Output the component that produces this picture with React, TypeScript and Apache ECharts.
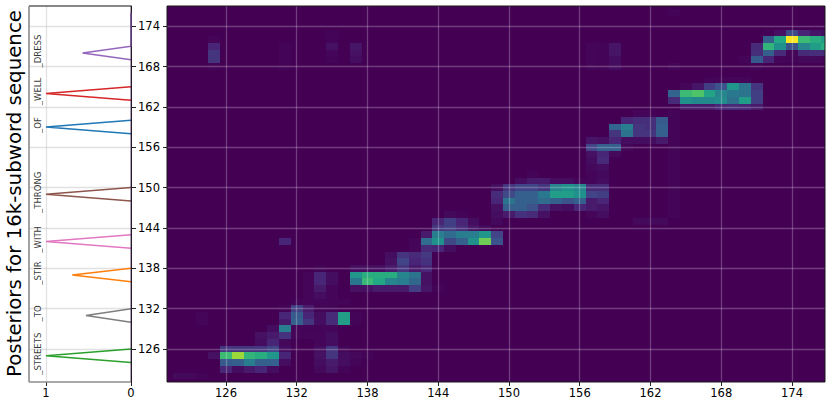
import React, { useEffect, useRef } from "react";
import * as echarts from "echarts";

// ---- data ----
const tickValues = [126, 132, 138, 144, 150, 156, 162, 168, 174];
const limitTicks = [0, 1];

const wordNames = ["_STREETS", "_TO", "_STIR", "_WITH", "_THRONG", "_OF", "_WELL", "_DRESS"];
const wordFrames = [125, 131, 137, 142, 149, 159, 164, 170];
const wordPeaks = [1, 0.53, 0.69, 1, 1, 1, 1, 0.57];
const wordColours = ["#2ca02c", "#7f7f7f", "#ff7f0e", "#e377c2", "#8c564b", "#1f77b4", "#d62728", "#9467bd"];

type Row = [number, number, number[]]; // frame on y, first frame on x, posteriors

const streetsCells: Row[] = [
  [122, 122, [0.04, 0.04, 0.02]],
  [123, 126, [0.1, 0.05, 0.08, 0.1, 0.05]],
  [124, 126, [0.28, 0.3, 0.42, 0.3, 0.3, 0.05]],
  [125, 125, [0.06, 0.68, 0.85, 0.65, 0.62, 0.52, 0.1]],
  [126, 126, [0.15, 0.15, 0.15, 0.15, 0.2, 0.05]],
  [127, 129, [0.05, 0.1, 0.04]],
  [128, 129, [0.06, 0.08, 0.14, 0.03, 0.03, 0.03, 0.05]],
  [129, 130, [0.05, 0.42, 0.03, 0.02, 0.02, 0.03]],
  [130, 124, [0.03]],
  [131, 124, [0.03]],
];
const toCells: Row[] = [
  [130, 131, [0.08, 0.3, 0.15, 0.05, 0.12, 0.55, 0.02]],
  [131, 131, [0.1, 0.28, 0.1, 0.05, 0.12, 0.55, 0.02]],
  [132, 131, [0.02, 0.18, 0.08, 0.02, 0.02]],
  [127, 134, [0.03, 0.05]],
  [126, 134, [0.05, 0.15, 0.03]],
  [125, 134, [0.06, 0.15, 0.05, 0.04, 0.02]],
  [124, 134, [0.05, 0.08, 0.05, 0.02]],
  [123, 134, [0.04, 0.07, 0.02]],
  [133, 132, [0.02, 0.03, 0.03, 0.02, 0.02]],
  [134, 133, [0.03, 0.05, 0.03]],
  [135, 133, [0.03, 0.08, 0.03]],
  [136, 133, [0.03, 0.1, 0.05]],
  [137, 133, [0.03, 0.1, 0.05]],
  [138, 134, [0.02]],
  [142, 131, [0.1]],
];
const stirCells: Row[] = [
  [135, 137, [0.06, 0.06, 0.08, 0.08, 0.08, 0.18, 0.07, 0.02]],
  [136, 137, [0.4, 0.67, 0.6, 0.45, 0.42, 0.33, 0.06]],
  [137, 137, [0.52, 0.62, 0.62, 0.62, 0.45, 0.38, 0.06]],
  [138, 137, [0.05, 0.05, 0.05, 0.08, 0.15, 0.08, 0.1]],
  [139, 140, [0.06, 0.2, 0.1, 0.14]],
  [140, 140, [0.05, 0.15, 0.12, 0.16]],
  [141, 142, [0.03, 0.12, 0.1, 0.05]],
];
const withCells: Row[] = [
  [142, 142, [0.03, 0.35, 0.5, 0.22, 0.3, 0.5, 0.78, 0.25]],
  [143, 143, [0.08, 0.42, 0.35, 0.42, 0.42, 0.52, 0.2]],
  [144, 144, [0.15, 0.18, 0.12, 0.07, 0.04]],
  [145, 144, [0.1, 0.18, 0.1, 0.05]],
  [146, 145, [0.04, 0.02]],
];
const throngCells: Row[] = [
  [145, 149, [0.04]],
  [146, 149, [0.05, 0.08, 0.14, 0.12, 0.06, 0, 0, 0, 0.03, 0.05]],
  [147, 149, [0.06, 0.3, 0.3, 0.25, 0.12, 0.06, 0.05, 0.1, 0.08, 0.07]],
  [148, 149, [0.1, 0.38, 0.3, 0.3, 0.35, 0.3, 0.25, 0.3, 0.08, 0.1]],
  [149, 149, [0.12, 0.22, 0.3, 0.3, 0.4, 0.55, 0.55, 0.5, 0.2, 0.18]],
  [150, 149, [0.05, 0.15, 0.2, 0.2, 0.15, 0.45, 0.5, 0.45, 0.12, 0.12]],
  [151, 151, [0.05, 0.08, 0.08, 0.05, 0.05, 0.03, 0.03, 0.05]],
  [152, 152, [0.02]],
  [145, 161, [0.04, 0.04, 0.04]],
];
const ofCells: Row[] = [
  [152, 157, [0.03, 0.04]],
  [153, 157, [0.04, 0.05]],
  [154, 157, [0.05, 0.12]],
  [155, 157, [0.06, 0.1, 0.04]],
  [156, 157, [0.2, 0.3, 0.3, 0.03]],
  [157, 157, [0.07, 0.06, 0.1, 0.05, 0.05, 0.05, 0.08]],
  [158, 159, [0.15, 0.38, 0.15, 0.15, 0.3, 0.02]],
  [159, 159, [0.32, 0.42, 0.15, 0.13, 0.3, 0.02]],
  [160, 160, [0.1, 0.13, 0.13, 0.28, 0.02]],
  [161, 161, [0.03, 0.02, 0, 0.02]],
];
const strayStrip: Row[] = [
  [146, 164, [0.025]],
  [147, 164, [0.025]],
  [148, 164, [0.025]],
  [149, 164, [0.025]],
  [150, 164, [0.025]],
  [151, 164, [0.025]],
  [152, 164, [0.025]],
  [153, 164, [0.025]],
  [154, 164, [0.025]],
  [155, 164, [0.025]],
  [156, 164, [0.025]],
  [157, 164, [0.025]],
  [168, 164, [0.03]],
  [176, 164, [0.02]],
];
const wellCells: Row[] = [
  [162, 165, [0.08, 0.08, 0.08, 0.1, 0.12, 0.1, 0.08]],
  [163, 164, [0.12, 0.5, 0.47, 0.47, 0.48, 0.37, 0.55, 0.18]],
  [164, 164, [0.32, 0.68, 0.72, 0.58, 0.45, 0.4, 0.38, 0.18]],
  [165, 165, [0.03, 0.07, 0.18, 0.25, 0.52, 0.38, 0.15]],
  [166, 167, [0.02, 0.03, 0.03, 0.03]],
];
const dressCells: Row[] = [
  [168, 171, [0.02]],
  [169, 170, [0.02, 0.28, 0.1, 0.03, 0.02, 0.04, 0.04, 0.03]],
  [170, 171, [0.13, 0.3, 0.12, 0.03, 0.12, 0.13, 0.12]],
  [171, 171, [0.12, 0.65, 0.5, 0.25, 0.45, 0.55, 0.62]],
  [172, 172, [0.3, 0.6, 1, 0.68, 0.62, 0.55]],
  [173, 172, [0.02, 0.06, 0.22, 0.1, 0.07, 0.05]],
];
const farCells: Row[] = [
  [168, 125, [0.02]],
  [169, 125, [0.15]],
  [170, 125, [0.15]],
  [171, 125, [0.1]],
  [172, 125, [0.03]],
  [168, 131, [0.02]],
  [169, 131, [0.02]],
  [170, 131, [0.02]],
  [171, 131, [0.02, 0, 0, 0, 0.06, 0, 0.07]],
  [172, 135, [0.02]],
  [173, 135, [0.02]],
  [170, 135, [0.03, 0, 0.06]],
  [169, 135, [0.02, 0, 0.05]],
  [168, 157, [0.03, 0.02, 0.05]],
  [169, 157, [0.03, 0.02, 0.05]],
  [170, 157, [0.03, 0.02, 0.07]],
  [171, 157, [0.03, 0.02, 0.07]],
];

// ---- styling ----
const viridis = ["#440154", "#482576", "#414487", "#355f8d", "#2a788e", "#21918c", "#22a884", "#44bf70", "#7ad151", "#bddf26", "#fde725"];
const hex = (s: string) => [1, 3, 5].map((i) => parseInt(s.slice(i, i + 2), 16));
function colourOf(raw: number) {
  // faint estimates sit closer to the background than a linear ramp shows them
  const v = raw < 0.1 ? 0.1 * Math.pow(raw / 0.1, 1.6) : raw;
  const t = Math.min(0.9999, v) * 10;
  const i = Math.floor(t);
  const a = hex(viridis[i]);
  const b = hex(viridis[i + 1]);
  const m = a.map((c, k) => Math.round(c + (b[k] - c) * (t - i)));
  return `rgb(${m[0]},${m[1]},${m[2]})`;
}

const font = "DejaVu Sans";
const yMin = 121.1;
const yMax = 177;
const xMin = 121;
const xMax = 176.8;

const allRows = [
  ...streetsCells, ...toCells, ...stirCells, ...withCells, ...throngCells,
  ...ofCells, ...strayStrip, ...wellCells, ...dressCells, ...farCells,
];
const cells: number[][] = [];
allRows.forEach(([y, x0, vals]) => {
  vals.forEach((v, i) => {
    if (v > 0) cells.push([x0 + i, y, v]);
  });
});

function buildOption(): any {
  const lineSeries = wordNames.map((name, i) => {
    const f = wordFrames[i];
    const pts = [[0, f - 1], [wordPeaks[i], f], [0, f + 1]];
    if (i === wordNames.length - 1) pts.push([0, 176]);
    return {
      type: "line",
      name,
      xAxisIndex: 0,
      yAxisIndex: 0,
      data: pts,
      showSymbol: false,
      symbol: "none",
      z: 4,
      lineStyle: { color: wordColours[i], width: 1.5 },
    };
  });
  return {
    animation: false,
    grid: [
      { left: 29, top: 6, width: 102, bottom: 25, show: false },
      { left: 167, top: 6, right: 6, bottom: 25, show: true, backgroundColor: "#440154", borderWidth: 0 },
    ],
    xAxis: [
      {
        type: "value", gridIndex: 0, inverse: true, min: 0, max: 1.2,
        axisLine: { show: false },
        axisTick: { length: 4, lineStyle: { color: "#222" }, customValues: limitTicks },
        axisLabel: { customValues: limitTicks, color: "#000", fontFamily: font, fontSize: 11.5, margin: 5 },
        splitLine: { show: true, lineStyle: { color: "rgba(190,190,190,0.45)", width: 1.3 } },
      },
      {
        type: "value", gridIndex: 1, min: xMin, max: xMax, z: 5,
        axisLine: { show: false },
        axisTick: { length: 4, lineStyle: { color: "#222" }, customValues: tickValues },
        axisLabel: { customValues: tickValues, color: "#000", fontFamily: font, fontSize: 11.5, margin: 5 },
        splitLine: { show: true, lineStyle: { color: "rgba(255,255,255,0.24)", width: 1.3 } },
      },
    ],
    yAxis: [
      {
        type: "value", gridIndex: 0, position: "right", min: yMin, max: yMax,
        axisLine: { show: true, onZero: false, lineStyle: { color: "#2a1a2e", width: 1 } },
        axisTick: { length: 5, lineStyle: { color: "#222" }, customValues: tickValues },
        axisLabel: { customValues: tickValues, color: "#000", fontFamily: font, fontSize: 11.5, margin: 7 },
        splitLine: { show: true, lineStyle: { color: "rgba(190,190,190,0.45)", width: 1.3 } },
      },
      {
        type: "value", gridIndex: 1, min: yMin, max: yMax, z: 5,
        axisLine: { show: false },
        axisTick: { length: 4, lineStyle: { color: "#222" }, customValues: tickValues },
        axisLabel: { show: false, customValues: tickValues },
        splitLine: { show: true, lineStyle: { color: "rgba(255,255,255,0.24)", width: 1.3 } },
      },
    ],
    series: [
      ...lineSeries,
      {
        type: "scatter",
        xAxisIndex: 0,
        yAxisIndex: 0,
        symbolSize: 0,
        silent: true,
        z: 5,
        data: wordNames.map((name, i) => ({ name, value: [1.09, wordFrames[i] + 0.3] })),
        label: {
          show: true,
          position: "inside",
          rotate: 90,
          formatter: (p: any) => p.name,
          color: "#000",
          fontFamily: font,
          fontSize: 8.5,
        },
      },
      {
        type: "custom",
        xAxisIndex: 1,
        yAxisIndex: 1,
        clip: true,
        silent: true,
        z: 2,
        data: cells,
        encode: { x: 0, y: 1 },
        renderItem: (_: any, api: any) => {
          const x = api.value(0);
          const y = api.value(1);
          const a = api.coord([x - 0.5, y + 0.5]);
          const b = api.coord([x + 0.5, y - 0.5]);
          const left = Math.round(a[0]);
          const top = Math.round(a[1]);
          return {
            type: "rect",
            shape: { x: left, y: top, width: Math.round(b[0]) - left, height: Math.round(b[1]) - top },
            style: { fill: colourOf(api.value(2)) },
          };
        },
      },
    ],
    graphic: [
      { type: "rect", z: 50, shape: { x: 167, y: 6, width: 658, height: 376 }, style: { fill: "none", stroke: "#1a1a1a", lineWidth: 1 } },
      { type: "line", z: 50, shape: { x1: 29, y1: 6, x2: 131, y2: 6 }, style: { stroke: "#111", lineWidth: 1 } },
      { type: "line", z: 50, shape: { x1: 131, y1: 6, x2: 131, y2: 382 }, style: { stroke: "rgba(40,20,50,0.75)", lineWidth: 1 } },
      { type: "line", z: 50, shape: { x1: 29, y1: 6, x2: 29, y2: 382 }, style: { stroke: "#8c8c8c", lineWidth: 1.6 } },
      { type: "line", z: 50, shape: { x1: 29, y1: 382, x2: 131, y2: 382 }, style: { stroke: "#8c8c8c", lineWidth: 1.6 } },
      {
        type: "text",
        z: 50,
        x: 14.5,
        y: 193.5,
        rotation: Math.PI / 2,
        style: {
          text: "Posteriors for 16k-subword sequence",
          fontFamily: font,
          fontSize: 19.8,
          fill: "#000",
          align: "center",
          verticalAlign: "middle",
        },
      },
    ],
  };
}

export default function App() {
  const ref = useRef<HTMLDivElement>(null);
  useEffect(() => {
    const chart = echarts.init(ref.current!, undefined, { renderer: "svg" });
    chart.setOption(buildOption());
    return () => chart.dispose();
  }, []);
  return <div ref={ref} style={{ position: "fixed", left: 0, top: 0, width: 831, height: 407, background: "#fff" }} />;
}
